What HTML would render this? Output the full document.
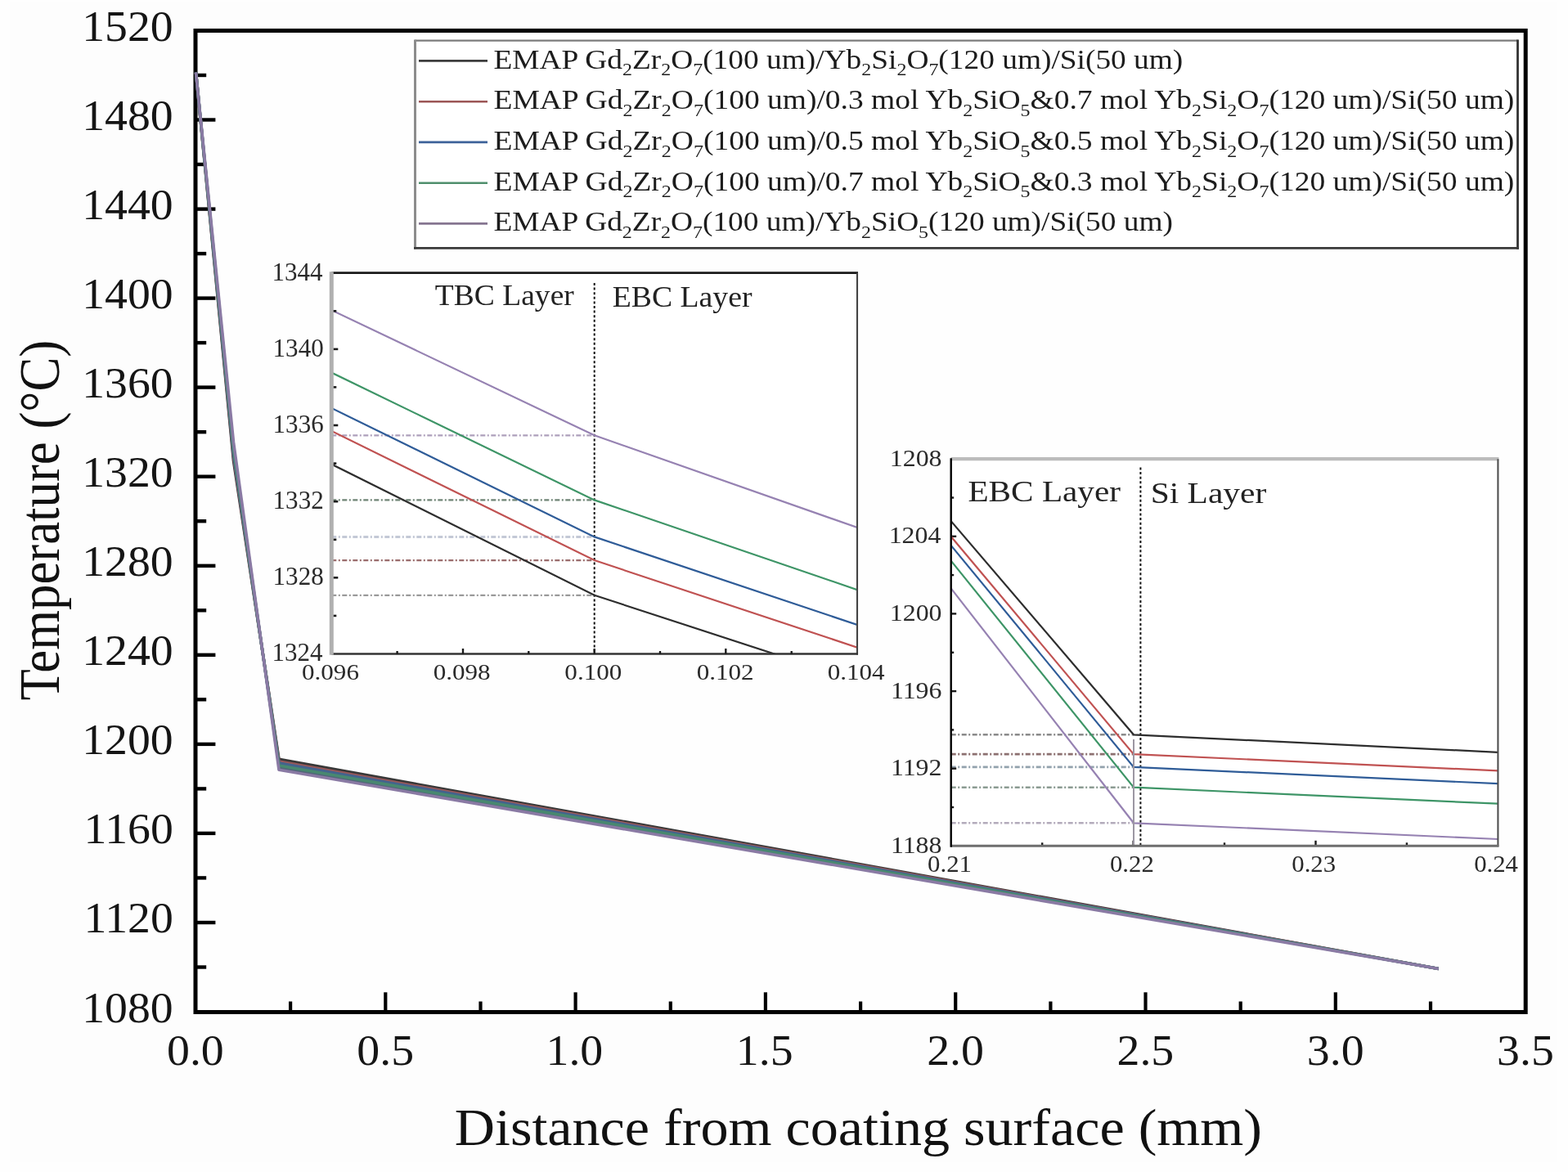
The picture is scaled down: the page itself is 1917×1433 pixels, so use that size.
<!DOCTYPE html>
<html><head><meta charset="utf-8"><title>Temperature distribution across coating</title>
<style>html,body{margin:0;padding:0;background:#fefefe;overflow:hidden;}svg{display:block;}</style>
</head><body>
<svg width="1917" height="1433" viewBox="0 0 1917 1433" font-family="'Liberation Serif', serif">
<rect x="0" y="0" width="1917" height="1433" fill="#fefefe"/>
<rect x="12" y="2" width="1892" height="1419" fill="#fdfdfd"/>
<rect x="239.0" y="37.45" width="1626.2" height="1200.05" fill="#fefefe"/>
<defs><clipPath id="c1"><rect x="405.3" y="333.7" width="642.7" height="465.6"/></clipPath><clipPath id="c2"><rect x="1162.7" y="561.2" width="668.7" height="473"/></clipPath></defs>
<rect x="239.0" y="37.45" width="1626.2" height="1200.05" fill="none" stroke="#000" stroke-width="5"/>
<line x1="239.0" y1="1182.5" x2="252.2" y2="1182.5" stroke="#000" stroke-width="4.4"/>
<line x1="239.0" y1="1128.0" x2="263.4" y2="1128.0" stroke="#000" stroke-width="4.4"/>
<line x1="239.0" y1="1073.4" x2="252.2" y2="1073.4" stroke="#000" stroke-width="4.4"/>
<line x1="239.0" y1="1018.9" x2="263.4" y2="1018.9" stroke="#000" stroke-width="4.4"/>
<line x1="239.0" y1="964.4" x2="252.2" y2="964.4" stroke="#000" stroke-width="4.4"/>
<line x1="239.0" y1="909.9" x2="263.4" y2="909.9" stroke="#000" stroke-width="4.4"/>
<line x1="239.0" y1="855.3" x2="252.2" y2="855.3" stroke="#000" stroke-width="4.4"/>
<line x1="239.0" y1="800.8" x2="263.4" y2="800.8" stroke="#000" stroke-width="4.4"/>
<line x1="239.0" y1="746.3" x2="252.2" y2="746.3" stroke="#000" stroke-width="4.4"/>
<line x1="239.0" y1="691.8" x2="263.4" y2="691.8" stroke="#000" stroke-width="4.4"/>
<line x1="239.0" y1="637.2" x2="252.2" y2="637.2" stroke="#000" stroke-width="4.4"/>
<line x1="239.0" y1="582.7" x2="263.4" y2="582.7" stroke="#000" stroke-width="4.4"/>
<line x1="239.0" y1="528.2" x2="252.2" y2="528.2" stroke="#000" stroke-width="4.4"/>
<line x1="239.0" y1="473.6" x2="263.4" y2="473.6" stroke="#000" stroke-width="4.4"/>
<line x1="239.0" y1="419.1" x2="252.2" y2="419.1" stroke="#000" stroke-width="4.4"/>
<line x1="239.0" y1="364.6" x2="263.4" y2="364.6" stroke="#000" stroke-width="4.4"/>
<line x1="239.0" y1="310.1" x2="252.2" y2="310.1" stroke="#000" stroke-width="4.4"/>
<line x1="239.0" y1="255.6" x2="263.4" y2="255.6" stroke="#000" stroke-width="4.4"/>
<line x1="239.0" y1="201.0" x2="252.2" y2="201.0" stroke="#000" stroke-width="4.4"/>
<line x1="239.0" y1="146.5" x2="263.4" y2="146.5" stroke="#000" stroke-width="4.4"/>
<line x1="239.0" y1="92.0" x2="252.2" y2="92.0" stroke="#000" stroke-width="4.4"/>
<line x1="355.1" y1="1237.5" x2="355.1" y2="1224.5" stroke="#000" stroke-width="4.2"/>
<line x1="471.3" y1="1237.5" x2="471.3" y2="1213.3" stroke="#000" stroke-width="4.2"/>
<line x1="587.5" y1="1237.5" x2="587.5" y2="1224.5" stroke="#000" stroke-width="4.2"/>
<line x1="703.6" y1="1237.5" x2="703.6" y2="1213.3" stroke="#000" stroke-width="4.2"/>
<line x1="819.8" y1="1237.5" x2="819.8" y2="1224.5" stroke="#000" stroke-width="4.2"/>
<line x1="935.9" y1="1237.5" x2="935.9" y2="1213.3" stroke="#000" stroke-width="4.2"/>
<line x1="1052.1" y1="1237.5" x2="1052.1" y2="1224.5" stroke="#000" stroke-width="4.2"/>
<line x1="1168.2" y1="1237.5" x2="1168.2" y2="1213.3" stroke="#000" stroke-width="4.2"/>
<line x1="1284.4" y1="1237.5" x2="1284.4" y2="1224.5" stroke="#000" stroke-width="4.2"/>
<line x1="1400.5" y1="1237.5" x2="1400.5" y2="1213.3" stroke="#000" stroke-width="4.2"/>
<line x1="1516.7" y1="1237.5" x2="1516.7" y2="1224.5" stroke="#000" stroke-width="4.2"/>
<line x1="1632.8" y1="1237.5" x2="1632.8" y2="1213.3" stroke="#000" stroke-width="4.2"/>
<line x1="1749.0" y1="1237.5" x2="1749.0" y2="1224.5" stroke="#000" stroke-width="4.2"/>
<polygon points="341,928.3 1758.8,1184.4 341,941.3" fill="#52657a"/>
<polyline points="239.5,88.5 285.5,563.6 341.0,928.3 1758.8,1184.4" fill="none" stroke="#383838" stroke-width="3.6" stroke-linejoin="round"/>
<polyline points="239.5,88.5 285.5,558.4 341.0,931.1 1758.8,1184.4" fill="none" stroke="#98585a" stroke-width="3.6" stroke-linejoin="round"/>
<polyline points="239.5,88.5 285.5,555.2 341.0,933.1 1758.8,1184.4" fill="none" stroke="#43638e" stroke-width="3.6" stroke-linejoin="round"/>
<polyline points="239.5,88.5 285.5,550.0 341.0,936.1 1758.8,1184.4" fill="none" stroke="#488870" stroke-width="3.6" stroke-linejoin="round"/>
<polyline points="239.5,88.5 285.5,540.4 341.0,941.3 1758.8,1184.4" fill="none" stroke="#8a7aa4" stroke-width="3.6" stroke-linejoin="round"/>
<rect x="507.5" y="49.7" width="1348" height="253.6" fill="#fff" stroke="none"/>
<line x1="507.5" y1="49.7" x2="1855.5" y2="49.7" stroke="#7c7c7c" stroke-width="2.2"/>
<line x1="507.5" y1="48.6" x2="507.5" y2="304.6" stroke="#8c8c8c" stroke-width="3"/>
<line x1="1855.5" y1="48.6" x2="1855.5" y2="304.7" stroke="#333" stroke-width="2.8"/>
<line x1="506" y1="303.3" x2="1856.9" y2="303.3" stroke="#3a3a3a" stroke-width="2.8"/>
<line x1="512" y1="74.4" x2="596" y2="74.4" stroke="#3c3c3c" stroke-width="2.6"/>
<line x1="512" y1="124.2" x2="596" y2="124.2" stroke="#9c5656" stroke-width="2.6"/>
<line x1="512" y1="173.9" x2="596" y2="173.9" stroke="#3d6299" stroke-width="2.6"/>
<line x1="512" y1="223.7" x2="596" y2="223.7" stroke="#4f8f6c" stroke-width="2.6"/>
<line x1="512" y1="273.4" x2="596" y2="273.4" stroke="#857590" stroke-width="2.6"/>
<rect x="405.3" y="333.7" width="642.7" height="465.8" fill="#fff"/>
<line x1="405.3" y1="727.8" x2="726.7" y2="727.8" stroke="#9a9a9a" stroke-width="2.2" stroke-dasharray="6 2.5 2 2.5"/>
<line x1="405.3" y1="685.1" x2="726.7" y2="685.1" stroke="#9a6c6c" stroke-width="2.2" stroke-dasharray="6 2.5 2 2.5"/>
<line x1="405.3" y1="656.4" x2="726.7" y2="656.4" stroke="#c4c9d6" stroke-width="3.0" stroke-dasharray="6 2.5 2 2.5"/>
<line x1="405.3" y1="611.4" x2="726.7" y2="611.4" stroke="#6f8475" stroke-width="2.2" stroke-dasharray="6 2.5 2 2.5"/>
<line x1="405.3" y1="532.3" x2="726.7" y2="532.3" stroke="#ad9fbb" stroke-width="2.2" stroke-dasharray="6 2.5 2 2.5"/>
<line x1="726.7" y1="346" x2="726.7" y2="799.5" stroke="#111" stroke-width="2" stroke-dasharray="3 2.6"/>
<g clip-path="url(#c1)">
<polyline points="405.3,567.6 726.7,727.8 1048.0,832.6" fill="none" stroke="#2e2e2e" stroke-width="2.2"/>
<polyline points="405.3,526.9 726.7,685.1 1048.0,791.6" fill="none" stroke="#c05252" stroke-width="2.2"/>
<polyline points="405.3,499.0 726.7,656.4 1048.0,764.0" fill="none" stroke="#2f5c98" stroke-width="2.2"/>
<polyline points="405.3,455.6 726.7,611.4 1048.0,721.1" fill="none" stroke="#3e9567" stroke-width="2.2"/>
<polyline points="405.3,379.2 726.7,532.3 1048.0,645.0" fill="none" stroke="#9682b2" stroke-width="2.2"/>
</g>
<line x1="405.3" y1="333.7" x2="1049.0" y2="333.7" stroke="#1a1a1a" stroke-width="2.8"/>
<line x1="1048.0" y1="333.7" x2="1048.0" y2="800.5" stroke="#444" stroke-width="2.1"/>
<line x1="405.3" y1="799.5" x2="1049.0" y2="799.5" stroke="#333" stroke-width="2.4"/>
<line x1="405.3" y1="332.3" x2="405.3" y2="800.7" stroke="#b0b0b0" stroke-width="5"/>
<line x1="407.8" y1="752.9" x2="411.3" y2="752.9" stroke="#1a1a1a" stroke-width="2.6"/>
<line x1="407.8" y1="706.3" x2="413.3" y2="706.3" stroke="#1a1a1a" stroke-width="2.6"/>
<line x1="407.8" y1="659.8" x2="411.3" y2="659.8" stroke="#1a1a1a" stroke-width="2.6"/>
<line x1="407.8" y1="613.2" x2="413.3" y2="613.2" stroke="#1a1a1a" stroke-width="2.6"/>
<line x1="407.8" y1="566.6" x2="411.3" y2="566.6" stroke="#1a1a1a" stroke-width="2.6"/>
<line x1="407.8" y1="520.0" x2="413.3" y2="520.0" stroke="#1a1a1a" stroke-width="2.6"/>
<line x1="407.8" y1="473.4" x2="411.3" y2="473.4" stroke="#1a1a1a" stroke-width="2.6"/>
<line x1="407.8" y1="426.9" x2="413.3" y2="426.9" stroke="#1a1a1a" stroke-width="2.6"/>
<line x1="407.8" y1="380.3" x2="411.3" y2="380.3" stroke="#1a1a1a" stroke-width="2.6"/>
<line x1="485.6" y1="799.5" x2="485.6" y2="796.0" stroke="#1a1a1a" stroke-width="2.4"/>
<line x1="566.0" y1="799.5" x2="566.0" y2="793.0" stroke="#1a1a1a" stroke-width="2.4"/>
<line x1="646.3" y1="799.5" x2="646.3" y2="796.0" stroke="#1a1a1a" stroke-width="2.4"/>
<line x1="726.7" y1="799.5" x2="726.7" y2="793.0" stroke="#1a1a1a" stroke-width="2.4"/>
<line x1="807.0" y1="799.5" x2="807.0" y2="796.0" stroke="#1a1a1a" stroke-width="2.4"/>
<line x1="887.3" y1="799.5" x2="887.3" y2="793.0" stroke="#1a1a1a" stroke-width="2.4"/>
<line x1="967.7" y1="799.5" x2="967.7" y2="796.0" stroke="#1a1a1a" stroke-width="2.4"/>
<rect x="1162.7" y="561.2" width="668.7" height="473.0999999999999" fill="#fff"/>
<line x1="1162.7" y1="898.3" x2="1386.0" y2="898.3" stroke="#8a8a8a" stroke-width="2.6" stroke-dasharray="6 2.5 2 2.5"/>
<line x1="1162.7" y1="922.1" x2="1386.0" y2="922.1" stroke="#8c7070" stroke-width="2.6" stroke-dasharray="6 2.5 2 2.5"/>
<line x1="1162.7" y1="937.9" x2="1386.0" y2="937.9" stroke="#93a2ad" stroke-width="2.6" stroke-dasharray="6 2.5 2 2.5"/>
<line x1="1162.7" y1="962.7" x2="1386.0" y2="962.7" stroke="#8b9b92" stroke-width="2.6" stroke-dasharray="6 2.5 2 2.5"/>
<line x1="1162.7" y1="1006.3" x2="1386.0" y2="1006.3" stroke="#b3abbb" stroke-width="2.6" stroke-dasharray="6 2.5 2 2.5"/>
<line x1="1162.7" y1="987.0" x2="1166.2" y2="987.0" stroke="#1a1a1a" stroke-width="2.4"/>
<line x1="1162.7" y1="939.7" x2="1169.2" y2="939.7" stroke="#1a1a1a" stroke-width="2.4"/>
<line x1="1162.7" y1="892.4" x2="1166.2" y2="892.4" stroke="#1a1a1a" stroke-width="2.4"/>
<line x1="1162.7" y1="845.1" x2="1169.2" y2="845.1" stroke="#1a1a1a" stroke-width="2.4"/>
<line x1="1162.7" y1="797.8" x2="1166.2" y2="797.8" stroke="#1a1a1a" stroke-width="2.4"/>
<line x1="1162.7" y1="750.4" x2="1169.2" y2="750.4" stroke="#1a1a1a" stroke-width="2.4"/>
<line x1="1162.7" y1="703.1" x2="1166.2" y2="703.1" stroke="#1a1a1a" stroke-width="2.4"/>
<line x1="1162.7" y1="655.8" x2="1169.2" y2="655.8" stroke="#1a1a1a" stroke-width="2.4"/>
<line x1="1162.7" y1="608.5" x2="1166.2" y2="608.5" stroke="#1a1a1a" stroke-width="2.4"/>
<line x1="1274.2" y1="1034.3" x2="1274.2" y2="1030.3" stroke="#1a1a1a" stroke-width="2.4"/>
<line x1="1385.6" y1="1034.3" x2="1385.6" y2="1027.8" stroke="#1a1a1a" stroke-width="2.4"/>
<line x1="1497.0" y1="1034.3" x2="1497.0" y2="1030.3" stroke="#1a1a1a" stroke-width="2.4"/>
<line x1="1608.5" y1="1034.3" x2="1608.5" y2="1027.8" stroke="#1a1a1a" stroke-width="2.4"/>
<line x1="1719.9" y1="1034.3" x2="1719.9" y2="1030.3" stroke="#1a1a1a" stroke-width="2.4"/>
<line x1="1394.4" y1="571.5" x2="1394.4" y2="1034.3" stroke="#111" stroke-width="2" stroke-dasharray="3 2.6"/>
<g clip-path="url(#c2)">
<polyline points="1162.7,637.1 1386.0,898.3 1831.4,919.8" fill="none" stroke="#2e2e2e" stroke-width="2.2"/>
<polyline points="1162.7,656.0 1386.0,922.1 1831.4,942.4" fill="none" stroke="#c05252" stroke-width="2.2"/>
<polyline points="1162.7,666.9 1386.0,937.9 1831.4,958.2" fill="none" stroke="#2f5c98" stroke-width="2.2"/>
<polyline points="1162.7,685.7 1386.0,962.7 1831.4,982.7" fill="none" stroke="#3e9567" stroke-width="2.2"/>
<polyline points="1162.7,719.4 1386.0,1006.3 1831.4,1026.0" fill="none" stroke="#9682b2" stroke-width="2.2"/>
</g>
<line x1="1386.0" y1="904" x2="1386.0" y2="1034.3" stroke="#9c97a3" stroke-width="2"/>
<line x1="1162.7" y1="561.2" x2="1832.4" y2="561.2" stroke="#bcbcbc" stroke-width="4.3"/>
<line x1="1831.4" y1="561.2" x2="1831.4" y2="1035.3" stroke="#505050" stroke-width="2.1"/>
<line x1="1162.7" y1="1034.3" x2="1832.4" y2="1034.3" stroke="#6e6e6e" stroke-width="3"/>
<line x1="1162.7" y1="560.2" x2="1162.7" y2="1035.8" stroke="#000" stroke-width="2.4"/>
<text transform="translate(100.22,1249.53) scale(1.0938,1.0176)" font-size="51" fill="#151515">1080</text>
<text transform="translate(102.41,1140.48) scale(1.0938,1.0176)" font-size="51" fill="#151515">1120</text>
<text transform="translate(102.41,1031.43) scale(1.0938,1.0176)" font-size="51" fill="#151515">1160</text>
<text transform="translate(100.22,922.38) scale(1.0938,1.0176)" font-size="51" fill="#151515">1200</text>
<text transform="translate(100.22,813.33) scale(1.0938,1.0176)" font-size="51" fill="#151515">1240</text>
<text transform="translate(100.22,704.28) scale(1.0938,1.0176)" font-size="51" fill="#151515">1280</text>
<text transform="translate(100.22,595.23) scale(1.0938,1.0176)" font-size="51" fill="#151515">1320</text>
<text transform="translate(100.22,486.18) scale(1.0938,1.0176)" font-size="51" fill="#151515">1360</text>
<text transform="translate(100.22,377.13) scale(1.0938,1.0176)" font-size="51" fill="#151515">1400</text>
<text transform="translate(100.22,268.08) scale(1.0938,1.0176)" font-size="51" fill="#151515">1440</text>
<text transform="translate(100.22,159.03) scale(1.0938,1.0176)" font-size="51" fill="#151515">1480</text>
<text transform="translate(100.22,49.98) scale(1.0938,1.0176)" font-size="51" fill="#151515">1520</text>
<text transform="translate(203.96,1301.57) scale(1.0950,1.0294)" font-size="51" fill="#151515">0.0</text>
<text transform="translate(436.26,1301.57) scale(1.0950,1.0294)" font-size="51" fill="#151515">0.5</text>
<text transform="translate(667.47,1301.57) scale(1.0950,1.0294)" font-size="51" fill="#151515">1.0</text>
<text transform="translate(899.77,1301.57) scale(1.0950,1.0294)" font-size="51" fill="#151515">1.5</text>
<text transform="translate(1133.16,1301.57) scale(1.0950,1.0294)" font-size="51" fill="#151515">2.0</text>
<text transform="translate(1365.46,1301.57) scale(1.0950,1.0294)" font-size="51" fill="#151515">2.5</text>
<text transform="translate(1597.76,1301.57) scale(1.0950,1.0294)" font-size="51" fill="#151515">3.0</text>
<text transform="translate(1830.06,1301.57) scale(1.0950,1.0294)" font-size="51" fill="#151515">3.5</text>
<text transform="translate(555.77,1400.30) scale(1.0646,1)" font-size="64" fill="#111">Distance from coating surface (mm)</text>
<text transform="translate(71.60,856.60) rotate(-90) scale(0.8971,1)" font-size="70" fill="#111">Temperature (°C)</text>
<text transform="translate(603.49,83.80) scale(1.1127,1)" font-size="33.6" fill="#1c1c1c"><tspan>EMAP Gd</tspan><tspan font-size="21.5" dy="8.6">2</tspan><tspan dy="-8.6">Zr</tspan><tspan font-size="21.5" dy="8.6">2</tspan><tspan dy="-8.6">O</tspan><tspan font-size="21.5" dy="8.6">7</tspan><tspan dy="-8.6">(100 um)/Yb</tspan><tspan font-size="21.5" dy="8.6">2</tspan><tspan dy="-8.6">Si</tspan><tspan font-size="21.5" dy="8.6">2</tspan><tspan dy="-8.6">O</tspan><tspan font-size="21.5" dy="8.6">7</tspan><tspan dy="-8.6">(120 um)/Si(50 um)</tspan></text>
<text transform="translate(603.48,133.45) scale(1.1161,1)" font-size="33.6" fill="#1c1c1c"><tspan>EMAP Gd</tspan><tspan font-size="21.5" dy="8.6">2</tspan><tspan dy="-8.6">Zr</tspan><tspan font-size="21.5" dy="8.6">2</tspan><tspan dy="-8.6">O</tspan><tspan font-size="21.5" dy="8.6">7</tspan><tspan dy="-8.6">(100 um)/0.3 mol Yb</tspan><tspan font-size="21.5" dy="8.6">2</tspan><tspan dy="-8.6">SiO</tspan><tspan font-size="21.5" dy="8.6">5</tspan><tspan dy="-8.6">&amp;0.7 mol Yb</tspan><tspan font-size="21.5" dy="8.6">2</tspan><tspan dy="-8.6">Si</tspan><tspan font-size="21.5" dy="8.6">2</tspan><tspan dy="-8.6">O</tspan><tspan font-size="21.5" dy="8.6">7</tspan><tspan dy="-8.6">(120 um)/Si(50 um)</tspan></text>
<text transform="translate(603.48,183.10) scale(1.1161,1)" font-size="33.6" fill="#1c1c1c"><tspan>EMAP Gd</tspan><tspan font-size="21.5" dy="8.6">2</tspan><tspan dy="-8.6">Zr</tspan><tspan font-size="21.5" dy="8.6">2</tspan><tspan dy="-8.6">O</tspan><tspan font-size="21.5" dy="8.6">7</tspan><tspan dy="-8.6">(100 um)/0.5 mol Yb</tspan><tspan font-size="21.5" dy="8.6">2</tspan><tspan dy="-8.6">SiO</tspan><tspan font-size="21.5" dy="8.6">5</tspan><tspan dy="-8.6">&amp;0.5 mol Yb</tspan><tspan font-size="21.5" dy="8.6">2</tspan><tspan dy="-8.6">Si</tspan><tspan font-size="21.5" dy="8.6">2</tspan><tspan dy="-8.6">O</tspan><tspan font-size="21.5" dy="8.6">7</tspan><tspan dy="-8.6">(120 um)/Si(50 um)</tspan></text>
<text transform="translate(603.48,232.75) scale(1.1161,1)" font-size="33.6" fill="#1c1c1c"><tspan>EMAP Gd</tspan><tspan font-size="21.5" dy="8.6">2</tspan><tspan dy="-8.6">Zr</tspan><tspan font-size="21.5" dy="8.6">2</tspan><tspan dy="-8.6">O</tspan><tspan font-size="21.5" dy="8.6">7</tspan><tspan dy="-8.6">(100 um)/0.7 mol Yb</tspan><tspan font-size="21.5" dy="8.6">2</tspan><tspan dy="-8.6">SiO</tspan><tspan font-size="21.5" dy="8.6">5</tspan><tspan dy="-8.6">&amp;0.3 mol Yb</tspan><tspan font-size="21.5" dy="8.6">2</tspan><tspan dy="-8.6">Si</tspan><tspan font-size="21.5" dy="8.6">2</tspan><tspan dy="-8.6">O</tspan><tspan font-size="21.5" dy="8.6">7</tspan><tspan dy="-8.6">(120 um)/Si(50 um)</tspan></text>
<text transform="translate(603.49,282.40) scale(1.1124,1)" font-size="33.6" fill="#1c1c1c"><tspan>EMAP Gd</tspan><tspan font-size="21.5" dy="8.6">2</tspan><tspan dy="-8.6">Zr</tspan><tspan font-size="21.5" dy="8.6">2</tspan><tspan dy="-8.6">O</tspan><tspan font-size="21.5" dy="8.6">7</tspan><tspan dy="-8.6">(100 um)/Yb</tspan><tspan font-size="21.5" dy="8.6">2</tspan><tspan dy="-8.6">SiO</tspan><tspan font-size="21.5" dy="8.6">5</tspan><tspan dy="-8.6">(120 um)/Si(50 um)</tspan></text>
<text transform="translate(531.80,372.80) scale(1.0494,1)" font-size="35.8" fill="#222">TBC Layer</text>
<text transform="translate(748.84,375.40) scale(1.0625,1)" font-size="35.5" fill="#222">EBC Layer</text>
<text transform="translate(1183.44,612.70) scale(1.1613,1)" font-size="35.5" fill="#222">EBC Layer</text>
<text transform="translate(1406.67,614.80) scale(1.1672,1)" font-size="35.5" fill="#222">Si Layer</text>
<text transform="translate(332.48,808.20) scale(1.1093,1.1556)" font-size="28" fill="#2a2a2a">1324</text>
<text transform="translate(333.59,715.08) scale(1.1093,1.1556)" font-size="28" fill="#2a2a2a">1328</text>
<text transform="translate(333.59,621.96) scale(1.1093,1.1556)" font-size="28" fill="#2a2a2a">1332</text>
<text transform="translate(333.59,528.84) scale(1.1093,1.1556)" font-size="28" fill="#2a2a2a">1336</text>
<text transform="translate(333.59,435.72) scale(1.1093,1.1556)" font-size="28" fill="#2a2a2a">1340</text>
<text transform="translate(332.48,342.60) scale(1.1093,1.1556)" font-size="28" fill="#2a2a2a">1344</text>
<text transform="translate(369.00,830.70) scale(1.1965,1.0706)" font-size="26" fill="#2a2a2a">0.096</text>
<text transform="translate(529.68,830.70) scale(1.1965,1.0706)" font-size="26" fill="#2a2a2a">0.098</text>
<text transform="translate(690.35,830.70) scale(1.1965,1.0706)" font-size="26" fill="#2a2a2a">0.100</text>
<text transform="translate(851.63,830.70) scale(1.1965,1.0706)" font-size="26" fill="#2a2a2a">0.102</text>
<text transform="translate(1011.70,830.70) scale(1.1965,1.0706)" font-size="26" fill="#2a2a2a">0.104</text>
<text transform="translate(1088.96,1042.70) scale(1.1377,1.0889)" font-size="28" fill="#2a2a2a">1188</text>
<text transform="translate(1088.96,948.10) scale(1.1377,1.0889)" font-size="28" fill="#2a2a2a">1192</text>
<text transform="translate(1088.96,853.50) scale(1.1377,1.0889)" font-size="28" fill="#2a2a2a">1196</text>
<text transform="translate(1087.82,758.90) scale(1.1377,1.0889)" font-size="28" fill="#2a2a2a">1200</text>
<text transform="translate(1086.69,664.30) scale(1.1377,1.0889)" font-size="28" fill="#2a2a2a">1204</text>
<text transform="translate(1087.82,569.70) scale(1.1377,1.0889)" font-size="28" fill="#2a2a2a">1208</text>
<text transform="translate(1134.07,1066.20) scale(1.1837,1.1059)" font-size="26" fill="#2a2a2a">0.21</text>
<text transform="translate(1356.97,1066.20) scale(1.1837,1.1059)" font-size="26" fill="#2a2a2a">0.22</text>
<text transform="translate(1579.27,1066.20) scale(1.1837,1.1059)" font-size="26" fill="#2a2a2a">0.23</text>
<text transform="translate(1802.17,1066.20) scale(1.1837,1.1059)" font-size="26" fill="#2a2a2a">0.24</text>
</svg>
</body></html>
